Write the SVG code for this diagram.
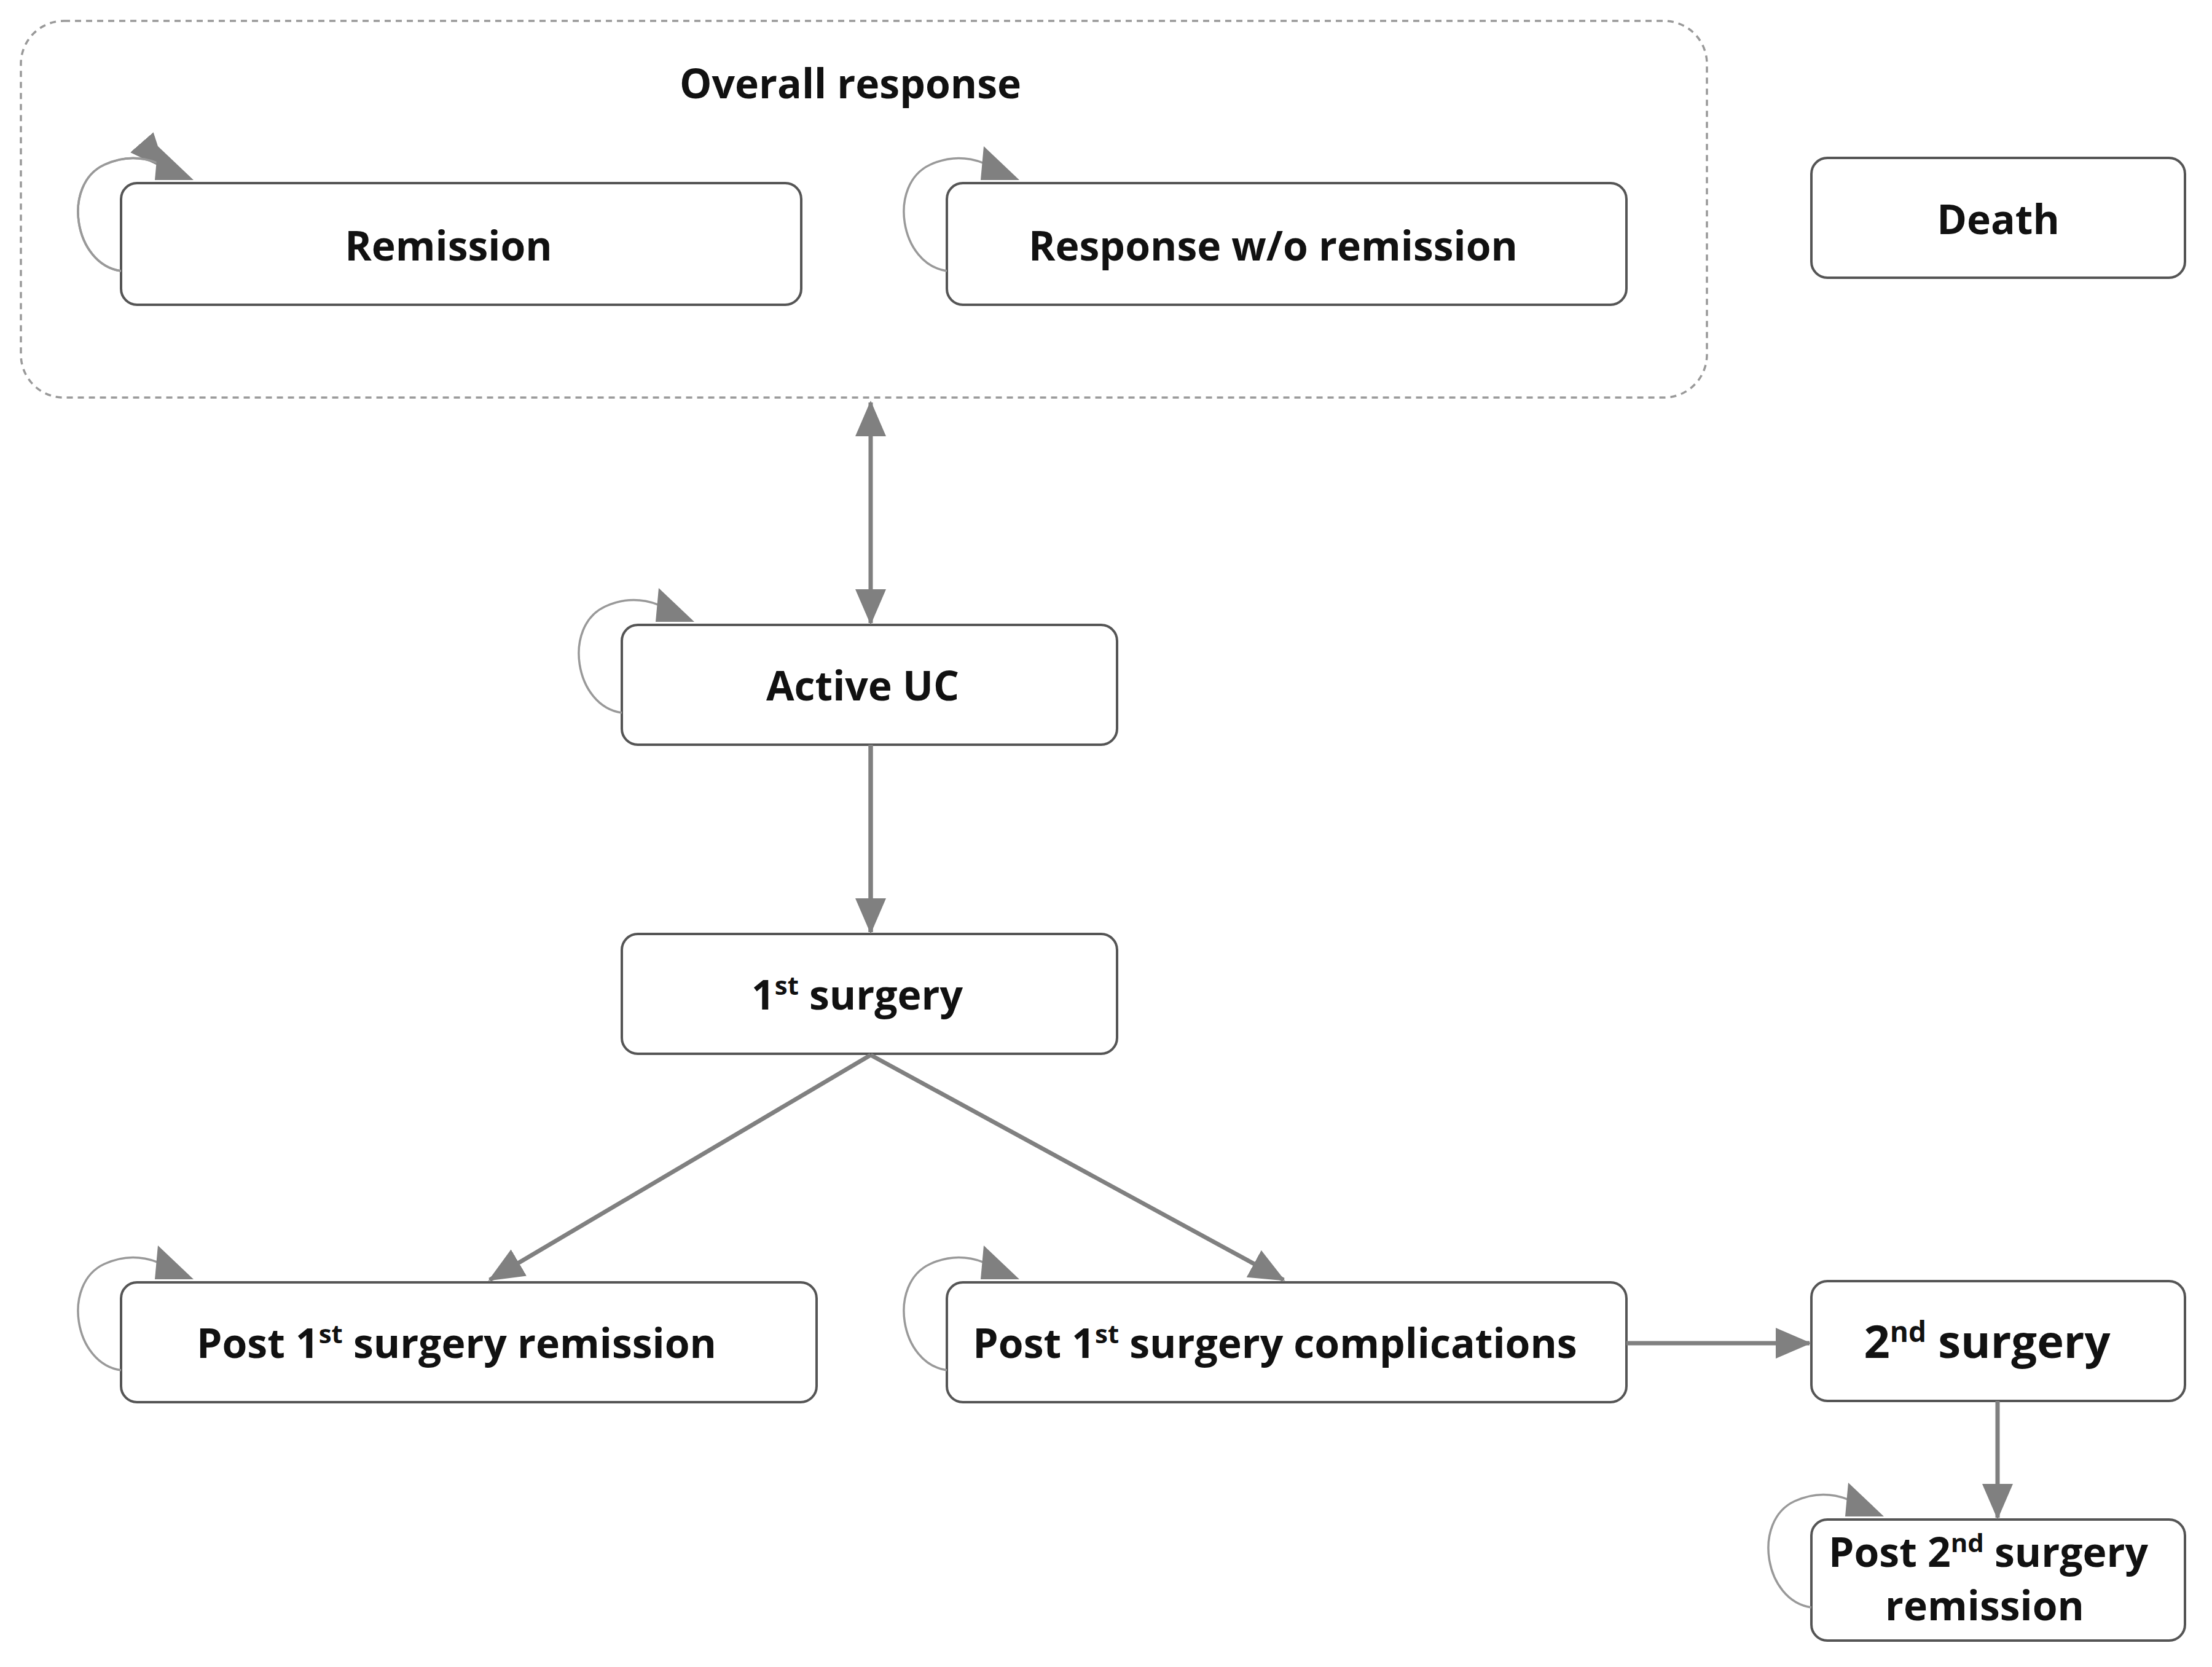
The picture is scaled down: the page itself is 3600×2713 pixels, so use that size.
<svg xmlns="http://www.w3.org/2000/svg" width="3600" height="2713" viewBox="0 0 3600 2713">
<style>
.box{fill:#fff;stroke:#555;stroke-width:4}
.t{font-family:"Open Sans","Liberation Sans",sans-serif;font-weight:bold;font-size:66px;fill:#111;text-anchor:middle}
.c{stroke:#808080;stroke-width:7;fill:none}
.loop{stroke:#999;stroke-width:3.5;fill:none}
.sup{font-size:42px}
</style>
<defs>
<marker id="ah" markerUnits="userSpaceOnUse" markerWidth="60" markerHeight="60" viewBox="0 0 60 60" refX="55" refY="30" orient="auto-start-reverse">
<path d="M0,5 L58,30 L0,55 Z" fill="#808080"/>
</marker>
<path id="lp" d="M0,143 C-77,132 -97,2 -27,-30 C23,-53 63,-33 70,-25" class="loop"/>
</defs>
<rect x="34" y="34" width="2744" height="613" rx="70" fill="none" stroke="#999" stroke-width="3.5" stroke-dasharray="10,8"/>
<text class="t" x="1384" y="160">Overall response</text>
<g id="remission"><rect class="box" x="197" y="298" width="1107" height="198" rx="26"/><text class="t" x="730" y="424">Remission</text></g>
<g id="response"><rect class="box" x="1541" y="298" width="1106" height="198" rx="26"/><text class="t" x="2072" y="424">Response w/o remission</text></g>
<g id="death"><rect class="box" x="2948" y="257" width="608" height="195" rx="26"/><text class="t" x="3252" y="381">Death</text></g>
<g id="activeuc"><rect class="box" x="1012" y="1017" width="806" height="195" rx="26"/><text class="t" x="1404" y="1140">Active UC</text></g>
<g id="surg1"><rect class="box" x="1012" y="1520" width="806" height="195" rx="26"/><text class="t" x="1395" y="1643">1<tspan class="sup" dy="-24">st</tspan><tspan dy="24"> surgery</tspan></text></g>
<g id="post1rem"><rect class="box" x="197" y="2087" width="1132" height="195" rx="26"/><text class="t" x="743" y="2210">Post 1<tspan class="sup" dy="-24">st</tspan><tspan dy="24"> surgery remission</tspan></text></g>
<g id="post1comp"><rect class="box" x="1541" y="2087" width="1106" height="195" rx="26"/><text class="t" x="2075" y="2210">Post 1<tspan class="sup" dy="-24">st</tspan><tspan dy="24"> surgery complications</tspan></text></g>
<g id="surg2"><rect class="box" x="2948" y="2085" width="608" height="195" rx="26"/><text class="t" x="3234" y="2210" style="font-size:74px">2<tspan class="sup" dy="-26" style="font-size:46px">nd</tspan><tspan dy="26"> surgery</tspan></text></g>
<g id="post2rem"><rect class="box" x="2948" y="2473" width="608" height="197" rx="26"/><text class="t" x="3236" y="2550">Post 2<tspan class="sup" dy="-24">nd</tspan><tspan dy="24"> surgery</tspan></text><text class="t" x="3230" y="2637">remission</text></g>
<g id="connectors">
<line class="c" x1="1417" y1="655" x2="1417" y2="1014" marker-start="url(#ah)" marker-end="url(#ah)"/>
<line class="c" x1="1417" y1="1212" x2="1417" y2="1517"/>
<line class="c" x1="1417" y1="1212" x2="1417" y2="1517" marker-end="url(#ah)"/>
<line class="c" x1="1417" y1="1717" x2="797" y2="2083" marker-end="url(#ah)"/>
<line class="c" x1="1417" y1="1717" x2="2089" y2="2083" marker-end="url(#ah)"/>
<line class="c" x1="2647" y1="2186" x2="2945" y2="2186" marker-end="url(#ah)"/>
<line class="c" x1="3251" y1="2280" x2="3251" y2="2470" marker-end="url(#ah)"/>
<use href="#lp" transform="translate(197,298)" marker-end="url(#ah)"/>
<g transform="translate(197,298)"><path d="M0,143 C-77,132 -97,2 -27,-30 C23,-53 63,-33 80,-22" class="loop"/><path d="M60,-60 L118,-5 L55,-5 Z" fill="#808080"/></g>
<g transform="translate(1541,298)"><path d="M0,143 C-77,132 -97,2 -27,-30 C23,-53 63,-33 80,-22" class="loop"/><path d="M60,-60 L118,-5 L55,-5 Z" fill="#808080"/></g>
<g transform="translate(1012,1017)"><path d="M0,143 C-77,132 -97,2 -27,-30 C23,-53 63,-33 80,-22" class="loop"/><path d="M60,-60 L118,-5 L55,-5 Z" fill="#808080"/></g>
<g transform="translate(197,2087)"><path d="M0,143 C-77,132 -97,2 -27,-30 C23,-53 63,-33 80,-22" class="loop"/><path d="M60,-60 L118,-5 L55,-5 Z" fill="#808080"/></g>
<g transform="translate(1541,2087)"><path d="M0,143 C-77,132 -97,2 -27,-30 C23,-53 63,-33 80,-22" class="loop"/><path d="M60,-60 L118,-5 L55,-5 Z" fill="#808080"/></g>
<g transform="translate(2948,2473)"><path d="M0,143 C-77,132 -97,2 -27,-30 C23,-53 63,-33 80,-22" class="loop"/><path d="M60,-60 L118,-5 L55,-5 Z" fill="#808080"/></g>
</g>
</svg>
